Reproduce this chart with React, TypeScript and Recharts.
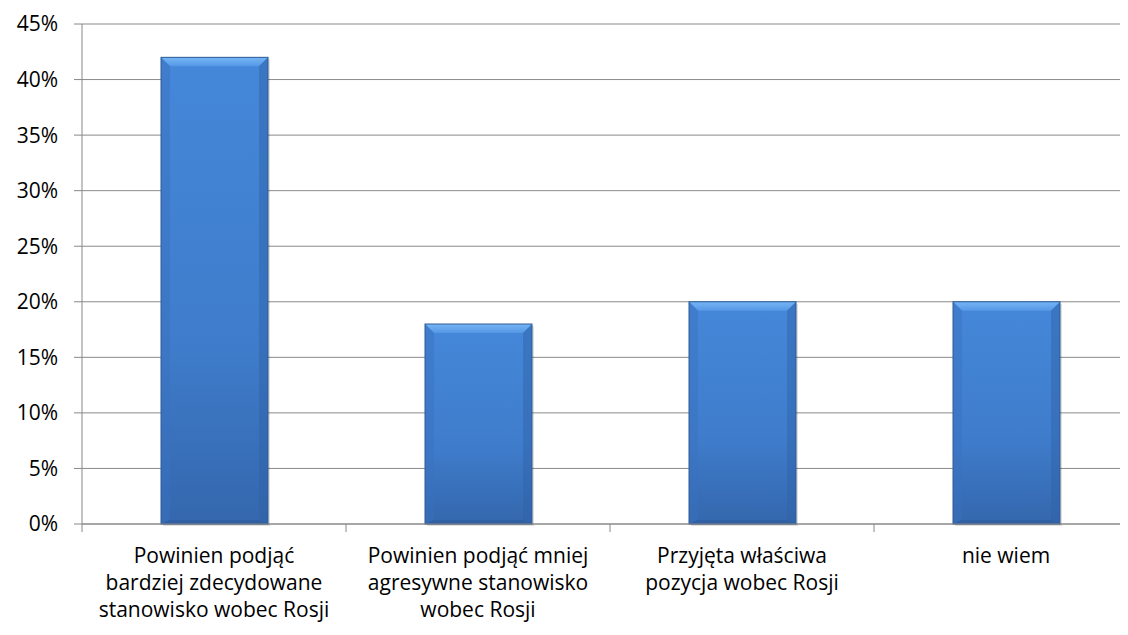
import React from "react";
import { BarChart, Bar, XAxis, YAxis, CartesianGrid } from "recharts";

const categories = [
    "Powinien podjąć\nbardziej zdecydowane\nstanowisko wobec Rosji",
    "Powinien podjąć mniej\nagresywne stanowisko\nwobec Rosji",
    "Przyjęta właściwa\npozycja wobec Rosji",
    "nie wiem",
];
const shares = [0.42, 0.18, 0.2, 0.2];
const yTicks = [0, 0.05, 0.1, 0.15, 0.2, 0.25, 0.3, 0.35, 0.4, 0.45];

const data = categories.map((name, i) => ({ name, value: shares[i] }));

const FONT = "'Open Sans', 'Noto Sans', sans-serif";

// bar with a bevelled top edge, like the office 3D style
const BevelBar = (props: any) => {
    const { x, y, width, height } = props;
    if (!height || height <= 0) return null;
    const b = Math.min(9, height / 2);
    return (
        <g>
            <rect x={x + 2} y={y + 2} width={width} height={height} fill="#000" opacity={0.12} />
            <rect x={x} y={y} width={width} height={height} fill="url(#barBody)" />
            <polygon
                points={`${x},${y} ${x + width},${y} ${x + width - b},${y + b} ${x + b},${y + b}`}
                fill="url(#barTop)"
            />
            <polygon
                points={`${x},${y} ${x + b},${y + b} ${x + b},${y + height - 4} ${x},${y + height}`}
                fill="#3a72bf"
                opacity={0.45}
            />
            <polygon
                points={`${x + width},${y} ${x + width - b},${y + b} ${x + width - b},${y + height - 4} ${x + width},${y + height}`}
                fill="#2f61a6"
                opacity={0.45}
            />
            <polygon
                points={`${x},${y + height} ${x + b},${y + height - 4} ${x + width - b},${y + height - 4} ${x + width},${y + height}`}
                fill="#2c5a99"
                opacity={0.5}
            />
            <rect x={x} y={y} width={width} height={height} fill="none" stroke="#2e5b96" strokeWidth={1} />
        </g>
    );
};

const CategoryTick = (props: any) => {
    const { x, y, payload } = props;
    const lines = String(payload.value).split("\n");
    const edge = x - (payload.offset || 0);
    return (
        <g>
            <line x1={edge} y1={y - 8} x2={edge} y2={y} stroke="#888" />
            <text x={x} y={y} textAnchor="middle" fill="#000" fontSize={21} fontFamily={FONT}>
                {lines.map((line, i) => (
                    <tspan key={i} x={x} dy={i === 0 ? 31 : 27}>
                        {line}
                    </tspan>
                ))}
            </text>
        </g>
    );
};

export default function App() {
    return (
        <div style={{ width: 1120, height: 627, overflow: "hidden" }}>
            <BarChart
                width={1140}
                height={627}
                data={data}
                margin={{ top: 16, right: 10, left: 0, bottom: 0 }}
            >
                <defs>
                    <linearGradient id="barBody" x1="0" y1="0" x2="0" y2="1">
                        <stop offset="0%" stopColor="#4587d9" />
                        <stop offset="60%" stopColor="#3f7dcc" />
                        <stop offset="100%" stopColor="#3467ad" />
                    </linearGradient>
                    <linearGradient id="barTop" x1="0" y1="0" x2="0" y2="1">
                        <stop offset="0%" stopColor="#76b6f5" />
                        <stop offset="100%" stopColor="#5597e6" />
                    </linearGradient>
                </defs>
                <CartesianGrid horizontal vertical={false} stroke="#8a8a8a" />
                <XAxis
                    dataKey="name"
                    height={111}
                    interval={0}
                    axisLine={{ stroke: "#888" }}
                    tickLine={false}
                    tick={<CategoryTick />}
                />
                <YAxis
                    width={74}
                    domain={[0, 0.45]}
                    ticks={yTicks}
                    interval={0}
                    axisLine={{ stroke: "#888" }}
                    tickLine={{ stroke: "#888" }}
                    tickSize={8}
                    tickMargin={16}
                    tickFormatter={(v) => `${Math.round(v * 100)}%`}
                    tick={{ fill: "#000", fontSize: 21, fontFamily: FONT }}
                />
                <Bar dataKey="value" barSize={107} shape={<BevelBar />} isAnimationActive={false} />
            </BarChart>
        </div>
    );
}
